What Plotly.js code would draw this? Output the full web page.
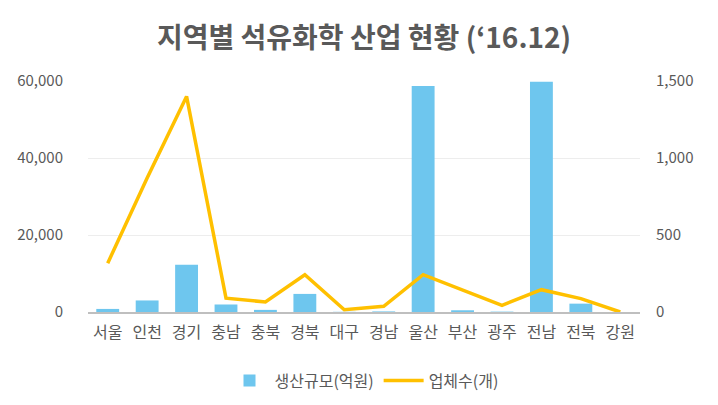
<!DOCTYPE html>
<html>
<head>
<meta charset="utf-8">
<script src="https://cdn.plot.ly/plotly-3.0.1.min.js"></script>
<style>
  html, body { margin: 0; padding: 0; background: #fff; }
  #chart { width: 718px; height: 405px; }
</style>
</head>
<body>
<div id="chart"></div>
<script>
// 지역별 석유화학 산업 현황 ('16.12)
const regions = ['서울', '인천', '경기', '충남', '충북', '경북', '대구', '경남', '울산', '부산', '광주', '전남', '전북', '강원'];
const production = [800, 3000, 12300, 1950, 550, 4700, 50, 150, 58700, 450, 100, 59800, 2170, 0];   // 생산규모(억원)
const companies = [317, 870, 1400, 90, 65, 242, 15, 37, 242, 140, 43, 145, 87, 0];                  // 업체수(개)

const font = 'Noto Sans CJK KR, Noto Sans, sans-serif';
const textColor = '#595959';

const barTrace = {
    x: regions,
    y: production,
    type: 'bar',
    name: '생산규모(억원)',
    marker: { color: '#6EC6EE' },
};

const lineTrace = {
    x: regions,
    y: companies,
    type: 'scatter',
    mode: 'lines',
    name: '업체수(개)',
    yaxis: 'y2',
    line: { color: '#FFC000', width: 3.5 },
};

const layout = {
    width: 718,
    height: 405,
    margin: { l: 88, r: 78, t: 81, b: 93, autoexpand: false },
    paper_bgcolor: '#fff',
    plot_bgcolor: '#fff',
    font: { family: font, color: textColor, size: 15 },
    title: {
        text: '<b>지역별 석유화학 산업 현황 (‘16.12)</b>',
        font: { family: font, size: 28, color: textColor },
        x: 0.5,
        xanchor: 'center',
        y: 0.905,
        yanchor: 'middle',
        xref: 'paper',
    },
    bargap: 0.42,
    xaxis: {
        type: 'category',
        showgrid: false,
        showline: true,
        linecolor: '#BFBFBF',
        linewidth: 2,
        ticks: '',
        tickfont: { size: 16, color: textColor },
        ticklabelstandoff: 5,
    },
    yaxis: {
        range: [0, 60000],
        tickvals: [0, 20000, 40000, 60000],
        tickformat: ',d',
        showgrid: true,
        gridcolor: '#EDEDED',
        gridwidth: 1,
        zeroline: false,
        showline: false,
        tickfont: { size: 15, color: textColor },
        ticklabelstandoff: 24,
    },
    yaxis2: {
        overlaying: 'y',
        side: 'right',
        range: [0, 1500],
        tickvals: [0, 500, 1000, 1500],
        tickformat: ',d',
        showgrid: false,
        zeroline: false,
        showline: false,
        tickfont: { size: 15, color: textColor },
        ticklabelstandoff: 15,
    },
    showlegend: true,
    legend: {
        orientation: 'h',
        x: 0.5,
        xanchor: 'center',
        yref: 'container',
        y: 0.06,
        yanchor: 'middle',
        font: { size: 16, color: textColor },
        itemwidth: 40,
        traceorder: 'normal',
    },
};

Plotly.newPlot('chart', [barTrace, lineTrace], layout, { displayModeBar: false, staticPlot: true });
</script>
</body>
</html>
